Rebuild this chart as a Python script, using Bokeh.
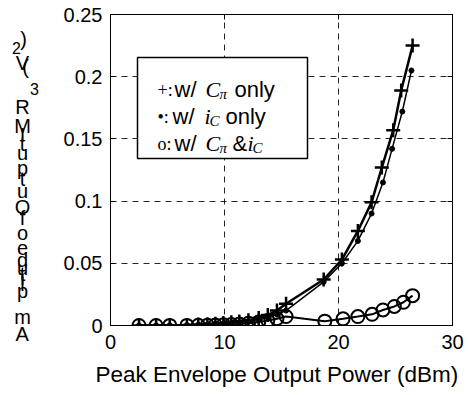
from bokeh.plotting import figure
from bokeh.models import LinearAxis, FixedTicker, Label, BoxAnnotation, Range1d, Title
from bokeh.layouts import row
from bokeh.core.properties import value
from bokeh.embed import file_html
from bokeh.resources import INLINE

# ---------------- data ----------------
plus_x = [2.5, 4.0, 5.2, 6.7, 7.7, 8.5, 9.2, 9.9, 10.6, 11.3, 12.1, 13.0, 13.8, 14.6, 15.4,
          18.7, 20.3, 21.7, 22.9, 23.8, 24.8, 25.5, 26.5]
plus_y = [0.0001, 0.0002, 0.0003, 0.0005, 0.0008, 0.0011, 0.0015, 0.0020, 0.0026, 0.0033,
          0.0042, 0.0060, 0.0085, 0.0120, 0.0175,
          0.037, 0.053, 0.076, 0.099, 0.127, 0.157, 0.189, 0.225]

dot_x = [2.5, 4.0, 5.2, 6.7, 7.7, 8.5, 9.2, 9.9, 10.6, 11.3, 12.1, 13.0, 13.8, 14.6, 15.4,
         18.7, 20.3, 21.7, 22.9, 23.9, 24.7, 25.6, 26.4]
dot_y = [0.0001, 0.0002, 0.0003, 0.0005, 0.0007, 0.0010, 0.0013, 0.0017, 0.0022, 0.0028,
         0.0035, 0.0048, 0.0065, 0.0090, 0.0120,
         0.035, 0.050, 0.068, 0.090, 0.115, 0.142, 0.172, 0.205]

circ_x = [2.5, 4.0, 5.2, 6.7, 7.7, 8.5, 9.2, 9.9, 10.6, 11.3, 12.1, 13.0, 13.8, 14.6, 15.4,
          18.8, 20.4, 21.7, 22.95, 23.9, 24.9, 25.7, 26.5]
circ_y = [0.0, 0.0, 0.0001, 0.0001, 0.0002, 0.0003, 0.0004, 0.0006, 0.0008, 0.0012,
          0.0018, 0.0028, 0.0040, 0.0055, 0.0072,
          0.0035, 0.0054, 0.0072, 0.0090, 0.0125, 0.0153, 0.0187, 0.0240]

xtick_vals = [0, 10, 20, 30]
ytick_vals = [0, 0.05, 0.1, 0.15, 0.2, 0.25]
ytick_labels = ["0", "0.05", "0.1", "0.15", "0.2", "0.25"]
x_title = "Peak Envelope Output Power (dBm)"

# garbled (stacked, upright) y-axis label characters, top to bottom
ylab_chars = [")", "2", "V", "(", "3", "R", "M", "I", "t", "u", "p", "t", "u", "O", "f",
              "o", "e", "d", "u", "t", "i", "l", "p", "m"]
ylab_last = "A"   # last character sits just below the frame level
# legend pieces: (text, font, style, size)
legend_pieces = [
    ("+:", "Liberation Serif", "normal", "18px"),
    ("w/", "Liberation Sans", "normal", "22px"),
    ("C", "Liberation Serif", "italic", "22px"),
    ("\u03c0", "Liberation Serif", "italic", "15px"),
    ("only", "Liberation Sans", "normal", "22px"),
    ("\u2022:", "Liberation Serif", "normal", "18px"),
    ("w/", "Liberation Sans", "normal", "22px"),
    ("i", "Liberation Serif", "italic", "22px"),
    ("C", "Liberation Serif", "italic", "15px"),
    ("only", "Liberation Sans", "normal", "22px"),
    ("o:", "Liberation Serif", "normal", "18px"),
    ("w/", "Liberation Sans", "normal", "22px"),
    ("C", "Liberation Serif", "italic", "22px"),
    ("\u03c0", "Liberation Serif", "italic", "15px"),
    ("&", "Liberation Sans", "normal", "22px"),
    ("i", "Liberation Serif", "italic", "22px"),
    ("C", "Liberation Serif", "italic", "15px"),
]

# ---------------- layout (pixels) ----------------
W, H = 469, 395
LW = 58                      # width of the strip holding the stacked y label
FL, FR, FT, FB = 110, 452, 14, 325
XMIN, XMAX, YMIN, YMAX = 0, 30, 0, 0.25


def dx(px):
    return XMIN + (px - FL) / (FR - FL) * (XMAX - XMIN)


def dy(py):
    return YMIN + (FB - py) / (FB - FT) * (YMAX - YMIN)


ylab_pos = [(23, 38), (16, 47), (22, 62), (25, 66), (34, 88), (22, 106), (22, 125),
            (22, 134), (22, 143), (22, 152), (22, 167), (22, 178), (22, 190), (22, 206),
            (22, 217), (22, 232), (22, 247), (22, 259), (22, 267), (22, 273), (22, 277),
            (22, 283), (22, 290), (22, 316)]
ylab_size = ["20px", "16px", "20px", "20px", "16px"] + ["20px"] * 19

legend_pos = [(157, 89), (174, 89), (205, 89), (219, 93), (234, 89),
              (157, 116), (172, 116), (204, 116), (209, 120), (225, 116),
              (157, 143), (174, 143), (205, 143), (219, 147), (232, 143), (247, 143), (252, 147)]

# ---------- left strip with the stacked label ----------
# (its frame is aligned with the main plot frame, so map FT..FB pixels directly)
q = figure(width=LW, height=H, output_backend="svg", toolbar_location=None,
           x_range=Range1d(0, LW), y_range=Range1d(FB, FT),
           x_axis_location=None, y_axis_location=None,
           min_border_left=0, min_border_right=0, min_border_top=0, min_border_bottom=0,
           background_fill_color="white", border_fill_color="white")
q.outline_line_color = None
q.grid.visible = False
q.text(x=[pp[0] for pp in ylab_pos], y=[pp[1] for pp in ylab_pos], text=ylab_chars,
       text_font=value("Liberation Sans"), text_font_size=ylab_size,
       text_color="black", text_align="center", text_baseline="middle")
q.add_layout(Title(text=ylab_last, align="left", offset=15, standoff=-5,
                   vertical_align="top",
                   text_font="Liberation Sans", text_font_size="20px",
                   text_font_style="normal", text_color="black"), "below")

# ---------- main plot ----------
p = figure(width=W - LW, height=H, output_backend="svg", toolbar_location=None,
           x_range=Range1d(XMIN, XMAX), y_range=Range1d(YMIN, YMAX),
           min_border_left=FL - LW, min_border_right=W - FR, min_border_top=FT,
           min_border_bottom=H - FB, background_fill_color="white",
           border_fill_color="white")
p.outline_line_color = "black"
p.outline_line_width = 1

p.xaxis.ticker = FixedTicker(ticks=xtick_vals)
p.yaxis.ticker = FixedTicker(ticks=ytick_vals)
p.yaxis.major_label_overrides = {v: s for v, s in zip(ytick_vals, ytick_labels)}

for ax in (p.xaxis[0], p.yaxis[0]):
    ax.major_tick_in = 5
    ax.major_tick_out = 0
    ax.minor_tick_line_color = None
    ax.axis_line_color = "black"
    ax.major_tick_line_color = "black"
    ax.major_label_text_font = "Liberation Sans"
    ax.major_label_text_font_size = "20px"
    ax.major_label_text_color = "black"
p.xaxis.major_label_standoff = 9
p.yaxis.major_label_standoff = 8

p.add_layout(Title(text=x_title, align="left", offset=-15, standoff=17,
                   text_font="Liberation Sans", text_font_size="22.5px",
                   text_font_style="normal", text_color="black"), "below")

for loc in ("right", "above"):
    ticks = ytick_vals if loc == "right" else xtick_vals
    ax = LinearAxis(ticker=FixedTicker(ticks=ticks))
    ax.major_label_overrides = {v: "" for v in ticks}
    ax.major_tick_in = 5
    ax.major_tick_out = 0
    ax.minor_tick_line_color = None
    ax.major_label_standoff = 0
    ax.axis_line_color = "black"
    p.add_layout(ax, loc)

for g in (p.xgrid[0], p.ygrid[0]):
    g.grid_line_color = "black"
    g.grid_line_dash = "6 5"
    g.grid_line_width = 1
    g.grid_line_alpha = 0.85

# series
p.line(plus_x, plus_y, line_color="black", line_width=2.5)
p.scatter(plus_x, plus_y, marker="cross", size=14, line_color="black", line_width=2.5)
p.line(dot_x, dot_y, line_color="black", line_width=1.5)
p.scatter(dot_x, dot_y, marker="circle", size=5, fill_color="black", line_color="black")
p.line(circ_x, circ_y, line_color="black", line_width=2)
p.scatter(circ_x, circ_y, marker="circle", size=13, fill_color=None, line_color="black",
          line_width=2)

# legend box
p.add_layout(BoxAnnotation(left=dx(137), right=dx(307), top=dy(57), bottom=dy(158),
                           fill_color="white", fill_alpha=1.0, line_color="black",
                           line_alpha=1.0, line_width=1.5))
for (txt, font, style, size), (px, py) in zip(legend_pieces, legend_pos):
    p.add_layout(Label(x=dx(px), y=dy(py), text=txt, text_font=font,
                       text_font_style=style, text_font_size=size, text_color="black",
                       text_align="left", text_baseline="alphabetic"))

layout = row(q, p, spacing=0)
open("out.html", "w").write(file_html(layout, INLINE))
